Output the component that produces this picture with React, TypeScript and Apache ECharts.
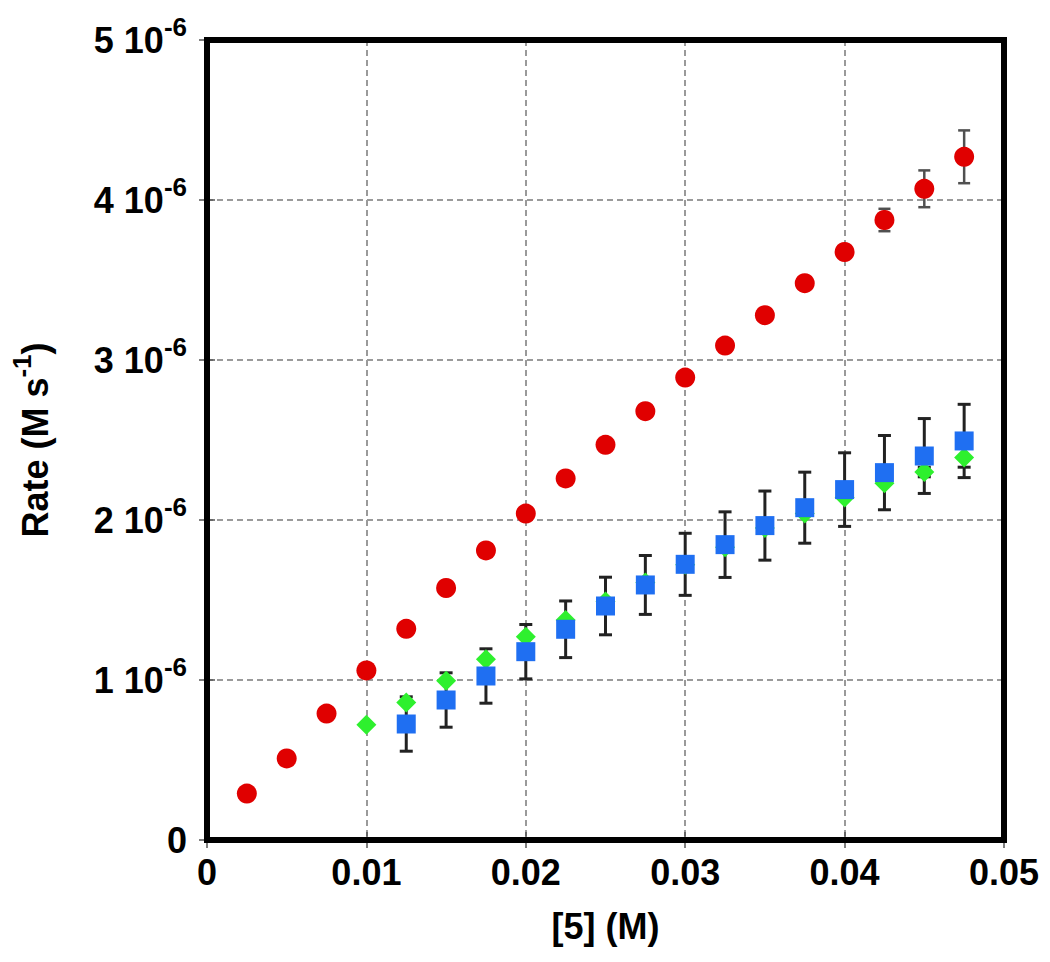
import React, { useEffect, useRef } from 'react';
import * as echarts from 'echarts';

// x in M, rates in units of 1e-6 M s^-1
const xRed = [0.0025, 0.005, 0.0075, 0.01, 0.0125, 0.015, 0.0175, 0.02, 0.0225, 0.025, 0.0275, 0.03, 0.0325, 0.035, 0.0375, 0.04, 0.0425, 0.045, 0.0475];
const redRate = [0.29, 0.51, 0.79, 1.06, 1.32, 1.575, 1.81, 2.04, 2.26, 2.47, 2.68, 2.89, 3.09, 3.28, 3.48, 3.675, 3.875, 4.07, 4.27];
const redErr = [0, 0, 0, 0, 0, 0, 0, 0, 0, 0, 0, 0, 0, 0, 0, 0, 0.07, 0.115, 0.165];

const xGreen = [0.01, 0.0125, 0.015, 0.0175, 0.02, 0.0225, 0.025, 0.0275, 0.03, 0.0325, 0.035, 0.0375, 0.04, 0.0425, 0.045, 0.0475];
const greenRate = [0.72, 0.86, 0.995, 1.13, 1.27, 1.375, 1.49, 1.61, 1.72, 1.83, 1.95, 2.04, 2.14, 2.23, 2.3, 2.39];
const greenErr = [0, 0, 0, 0, 0, 0, 0, 0, 0, 0, 0, 0, 0, 0, 0.03, 0.06];

const xBlue = [0.0125, 0.015, 0.0175, 0.02, 0.0225, 0.025, 0.0275, 0.03, 0.0325, 0.035, 0.0375, 0.04, 0.0425, 0.045, 0.0475];
const blueRate = [0.725, 0.875, 1.025, 1.177, 1.317, 1.4625, 1.594, 1.723, 1.846, 1.965, 2.077, 2.19, 2.296, 2.4, 2.494];
const blueErr = [0.17, 0.17, 0.17, 0.17, 0.177, 0.18, 0.184, 0.194, 0.205, 0.216, 0.222, 0.23, 0.232, 0.234, 0.229];

const xTickLabels = ['0', '0.01', '0.02', '0.03', '0.04', '0.05'];
const yTickLabels = ['0', '1', '2', '3', '4', '5'];

const FONT = '"Liberation Sans", Arial, Helvetica, sans-serif';

function errData(xs: number[], ys: number[], es: number[]) {
  const out: number[][] = [];
  xs.forEach((x, i) => {
    if (es[i] > 0) out.push([x, ys[i] - es[i], ys[i] + es[i]]);
  });
  return out;
}

function errSeries(data: number[][], color: string, width: number, capHalf: number, z: number) {
  return {
    type: 'custom',
    z,
    silent: true,
    data,
    renderItem: (params: any, api: any) => {
      const x = api.value(0);
      const lo = api.value(1);
      const hi = api.value(2);
      const pHi = api.coord([x, hi]);
      const pLo = api.coord([x, lo]);
      const style = { stroke: color, lineWidth: width };
      return {
        type: 'group',
        children: [
          { type: 'line', shape: { x1: pHi[0], y1: pHi[1], x2: pLo[0], y2: pLo[1] }, style },
          { type: 'line', shape: { x1: pHi[0] - capHalf, y1: pHi[1], x2: pHi[0] + capHalf, y2: pHi[1] }, style },
          { type: 'line', shape: { x1: pLo[0] - capHalf, y1: pLo[1], x2: pLo[0] + capHalf, y2: pLo[1] }, style },
        ],
      };
    },
  };
}

export default function App() {
  const ref = useRef<HTMLDivElement>(null);
  useEffect(() => {
    if (!ref.current) return;
    const chart = echarts.init(ref.current, undefined, { renderer: 'svg' });
    const tickStyle = { show: true, inside: true, length: 8, lineStyle: { color: '#555', width: 1.5 } };
    const splitLine = { show: true, lineStyle: { color: '#9a9a9a', width: 2, type: [6, 4] as any } };
    const labelRich = {
      n: { fontSize: 36, fontWeight: 'bold', fontFamily: FONT, color: '#000' },
      s: { fontSize: 26, fontWeight: 'bold', fontFamily: FONT, color: '#000', padding: [0, 0, 26, 0] },
    };
    chart.setOption({
      animation: false,
      backgroundColor: '#fff',
      grid: { left: 207, right: 46, top: 40, bottom: 122, show: true, z: 5, borderWidth: 6, borderColor: '#000', backgroundColor: 'transparent' },
      xAxis: [
        {
          type: 'value', min: 0, max: 0.05, interval: 0.01, position: 'bottom',
          axisLine: { show: false }, axisTick: tickStyle, splitLine,
          axisLabel: {
            margin: 14, fontSize: 36, fontWeight: 'bold', fontFamily: FONT, color: '#000',
            formatter: (v: number) => xTickLabels[Math.round(v * 100)],
          },
          name: '[5] (M)', nameLocation: 'middle', nameGap: 68,
          nameTextStyle: { fontSize: 36, fontWeight: 'bold', fontFamily: FONT, color: '#000' },
        },
        {
          type: 'value', min: 0, max: 0.05, interval: 0.01, position: 'top',
          axisLine: { show: false }, axisTick: tickStyle, splitLine: { show: false }, axisLabel: { show: false },
        },
      ],
      yAxis: [
        {
          type: 'value', min: 0, max: 5, interval: 1, position: 'left',
          axisLine: { show: false }, axisTick: tickStyle, splitLine,
          axisLabel: {
            margin: 20,
            formatter: (v: number) => {
              const t = yTickLabels[Math.round(v)];
              return t === '0' ? '{n|0}' : `{n|${t} 10}{s|-6}`;
            },
            rich: labelRich,
          },
          name: '{n|Rate (M s}{s|-1}{n|)}', nameLocation: 'middle', nameGap: 146,
          nameTextStyle: { rich: labelRich },
        },
        {
          type: 'value', min: 0, max: 5, interval: 1, position: 'right',
          axisLine: { show: false }, axisTick: tickStyle, splitLine: { show: false }, axisLabel: { show: false },
        },
      ],
      series: [
        errSeries(errData(xRed, redRate, redErr), '#505050', 2.5, 6, 1),
        errSeries(errData(xBlue, blueRate, blueErr), '#222', 3, 6.5, 1),
        errSeries(errData(xGreen, greenRate, greenErr), '#222', 3, 6.5, 1),
        {
          type: 'scatter', z: 3, symbol: 'circle', symbolSize: 20,
          itemStyle: { color: '#e00000', opacity: 1 },
          data: xRed.map((x, i) => [x, redRate[i]]),
        },
        {
          type: 'scatter', z: 4, symbol: 'diamond', symbolSize: [20, 20],
          itemStyle: { color: '#2ef02e', opacity: 1 },
          data: xGreen.map((x, i) => [x, greenRate[i]]),
        },
        {
          type: 'scatter', z: 5, symbol: 'rect', symbolSize: 19,
          itemStyle: { color: '#1f6ff2', opacity: 1 },
          data: xBlue.map((x, i) => [x, blueRate[i]]),
        },
      ],
    });
    return () => chart.dispose();
  }, []);
  return <div ref={ref} style={{ position: 'absolute', left: 0, top: 0, width: 1050, height: 962 }} />;
}
